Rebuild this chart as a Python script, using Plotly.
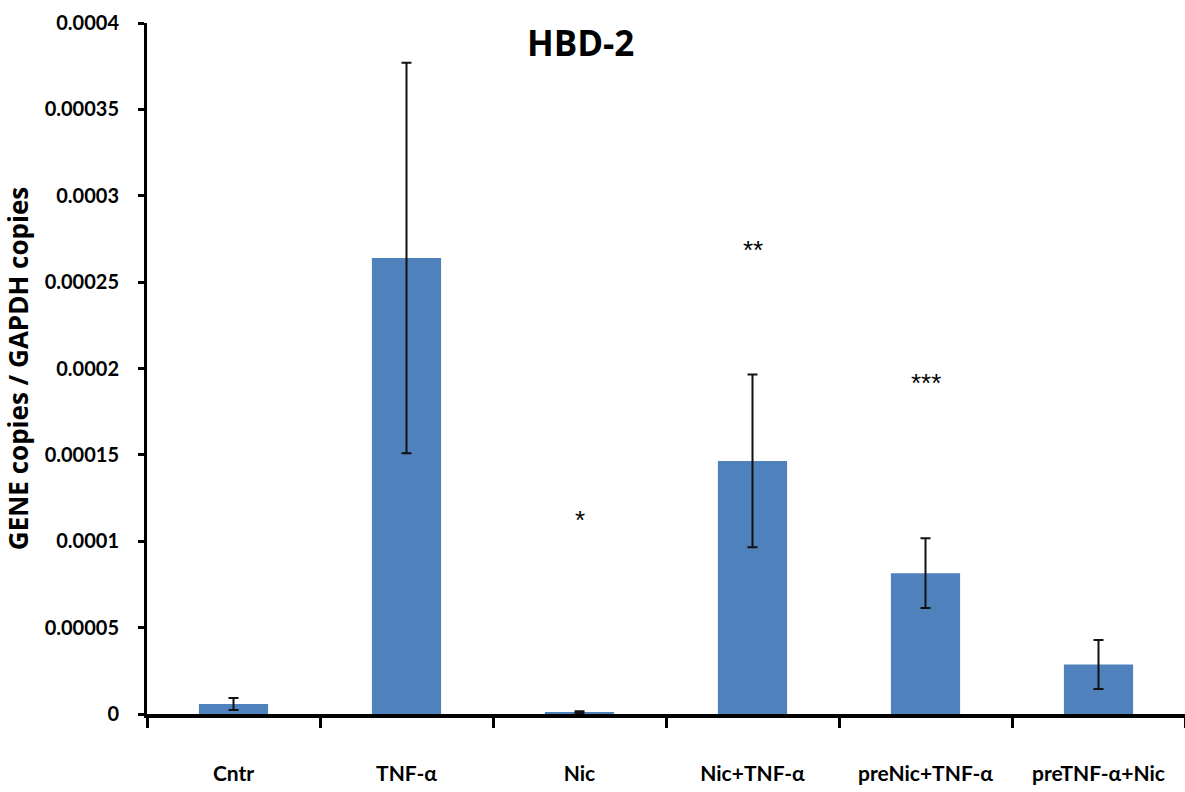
import plotly.graph_objects as go

# Category labels and measured expression ratios (HBD-2 / GAPDH)
categories = ["Cntr", "TNF-α", "Nic", "Nic+TNF-α", "preNic+TNF-α", "preTNF-α+Nic"]
means = [0.0000058, 0.000264, 0.0000010, 0.0001465, 0.0000815, 0.0000287]
errors = [0.0000035, 0.000113, 0.0000006, 0.0000500, 0.0000202, 0.0000142]

# Significance markers: category, height, text
sig_categories = ["Nic", "Nic+TNF-α", "preNic+TNF-α"]
sig_heights = [0.0001123, 0.0002686, 0.0001916]
sig_labels = ["*", "**", "***"]

y_ticks = [0, 0.00005, 0.0001, 0.00015, 0.0002, 0.00025, 0.0003, 0.00035, 0.0004]
y_tick_text = ["0", "0.00005", "0.0001", "0.00015", "0.0002", "0.00025", "0.0003", "0.00035", "0.0004"]

label_font = "Lato, sans-serif"
title_font = "Open Sans, sans-serif"

fig = go.Figure()
fig.add_trace(go.Bar(
    x=categories,
    y=means,
    width=0.4,
    marker=dict(color="#4F81BD", line=dict(width=0)),
    error_y=dict(type="data", array=errors, visible=True,
                 color="#111111", thickness=2, width=5),
    showlegend=False,
))

for cat, h, txt in zip(sig_categories, sig_heights, sig_labels):
    fig.add_annotation(x=cat, y=h, text=txt, showarrow=False,
                       font=dict(family="Arial, Liberation Sans", size=26, color="black"))

fig.update_layout(
    width=1185, height=792,
    margin=dict(l=147, r=0, t=23, b=78),
    paper_bgcolor="white", plot_bgcolor="white",
    bargap=0.6,
    title=dict(text="<b>HBD-2</b>", x=0.49, xanchor="center", y=0.945, yanchor="middle",
               font=dict(family=title_font, size=35, color="black")),
    xaxis=dict(
        type="category", range=[-0.5, 5.5],
        showline=True, linecolor="black", linewidth=4,
        ticks="outside", tickson="boundaries", ticklen=10, tickwidth=3, tickcolor="black",
        tickfont=dict(family=label_font, size=21, color="black"),
        tickprefix="<b>", ticksuffix="</b>",
        ticklabelstandoff=38,
        showgrid=False, zeroline=False,
    ),
    yaxis=dict(
        range=[0, 0.0004],
        tickvals=y_ticks, ticktext=["<b>" + t + "</b>" for t in y_tick_text],
        showline=True, linecolor="black", linewidth=3,
        ticks="outside", ticklen=6, tickwidth=3, tickcolor="black",
        tickfont=dict(family=label_font, size=20, color="black"),
        ticklabelstandoff=15,
        showgrid=False, zeroline=False,
        title=dict(text="<b>GENE copies / GAPDH copies</b>",
                   font=dict(family="Open Sans, sans-serif", size=26, color="black"),
                   standoff=12),
    ),
)

fig.write_html("out.html")
